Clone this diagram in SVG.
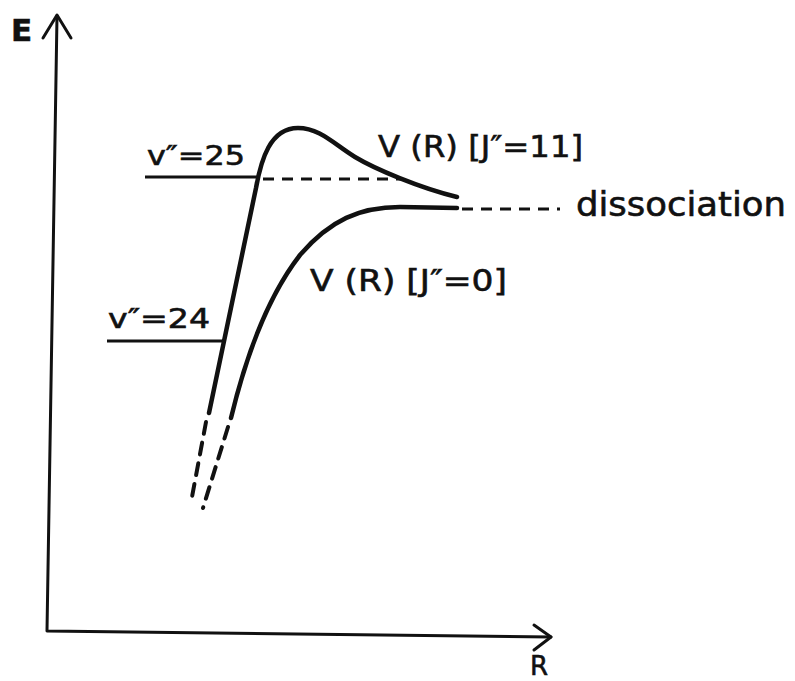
<svg xmlns="http://www.w3.org/2000/svg" width="795" height="681" viewBox="0 0 795 681">
<style>
.ax{fill:none;stroke:#111;stroke-width:3;stroke-linecap:round;stroke-linejoin:round}
.cv{fill:none;stroke:#111;stroke-width:4.5;stroke-linecap:round;stroke-linejoin:round}
.lv{fill:none;stroke:#111;stroke-width:3}
.ds{fill:none;stroke:#111;stroke-width:3;stroke-dasharray:11 8}
.dc{fill:none;stroke:#111;stroke-width:4;stroke-dasharray:12 9;stroke-linecap:round}
.t{font-family:"DejaVu Sans","Liberation Sans",sans-serif;fill:#111;stroke:#111;stroke-width:0.6}
</style>
<rect width="795" height="681" fill="#fff"/>
<g id="axes">
<path class="ax" d="M57,16 L47,631 L551,637"/>
<path class="ax" d="M43,38 L57,15 L71,38"/>
<path class="ax" d="M534,625 L551,637 L534,650"/>
<text class="t" x="11" y="41" font-size="31" font-weight="bold">E</text>
<text class="t" x="530" y="675" font-size="26">R</text>
</g>
<g id="levels">
<path class="lv" d="M145,177 L258,177"/>
<path class="ds" d="M263,179 L403,179"/>
<path class="lv" d="M107,341 L224,341"/>
<path class="ds" d="M462,209 L560,209"/>
<text class="t" x="147" y="165" font-size="26" textLength="98" lengthAdjust="spacingAndGlyphs">v″=25</text>
<text class="t" x="108" y="328" font-size="26" textLength="102" lengthAdjust="spacingAndGlyphs">v″=24</text>
</g>
<g id="curve-J11">
<path class="cv" d="M209,413 L256,188 C261,160 270,128 298,128 C320,128 335,145 355,157 C375,169 420,188 457,197"/>
<path class="dc" d="M206,422 L192,497"/>
<text class="t" x="378" y="157" font-size="30" textLength="205" lengthAdjust="spacingAndGlyphs">V (R) [J″=11]</text>
</g>
<g id="curve-J0">
<path class="cv" d="M231,418 C245,360 265,300 300,255 C330,220 360,207 400,207 L457,208"/>
<path class="dc" d="M228,427 L203,508"/>
<text class="t" x="310" y="291" font-size="30" textLength="197" lengthAdjust="spacingAndGlyphs">V (R) [J″=0]</text>
</g>
<text class="t" x="576" y="216" font-size="33" textLength="210" lengthAdjust="spacingAndGlyphs">dissociation</text>
</svg>
